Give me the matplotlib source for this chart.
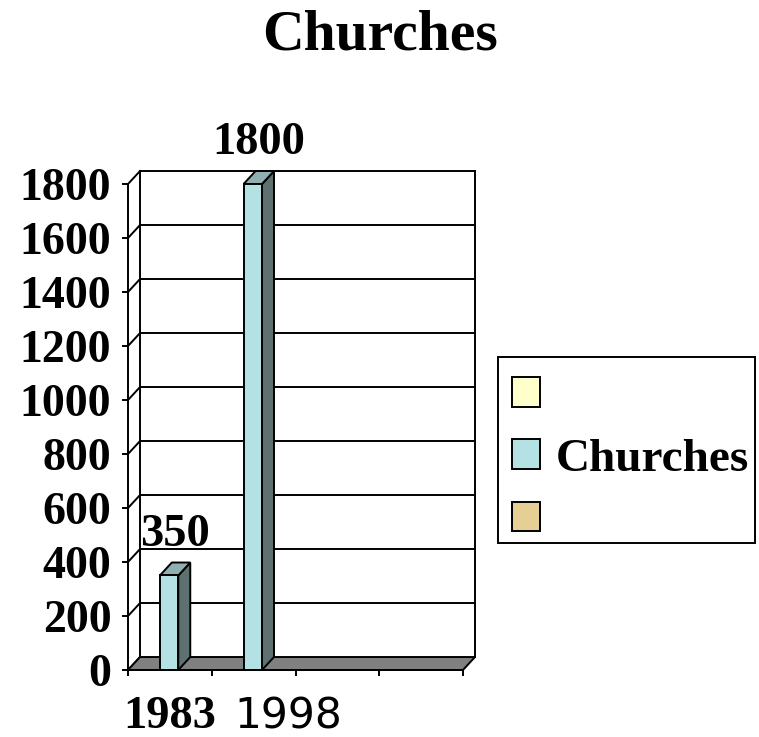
import matplotlib
matplotlib.use('Agg')
import matplotlib.pyplot as plt
import matplotlib.transforms as mtransforms
from matplotlib.patches import Polygon, Patch, Rectangle
from matplotlib.legend_handler import HandlerPatch

plt.rcParams['font.family'] = ['Liberation Serif', 'DejaVu Serif']
plt.rcParams['font.weight'] = 'bold'

# data
years = ['1983', '1998']
churches = [350, 1800]
n_slots = 4
yticks = [0, 200, 400, 600, 800, 1000, 1200, 1400, 1600, 1800]
legend_labels = [' ', 'Churches', ' ']
legend_colors = ['#FFFFCC', '#B4E1E4', '#E6CF94']

# colours of the fake 3d bars
c_front = '#B4E1E4'
c_top = '#8FAFB1'
c_side = '#5E706F'
c_floor = '#808080'
lw = 1.4

# depth offset of the back wall (x in category units, y in value units)
dx, dy = 0.143, 48
ymax = yticks[-1]
bar_w = 0.22

fig = plt.figure(figsize=(7.59, 7.37), dpi=100)
ax = fig.add_axes([0.1356, 0.0543, 0.5075, 0.7327])
ax.set_xlim(-0.3, 4.3)
ax.set_ylim(-100, 1900)

# back wall, grid lines and left wall diagonals
for v in yticks:
    if v > 0:
        ax.plot([dx, n_slots + dx], [v + dy, v + dy], color='black', lw=lw, zorder=1)
    ax.plot([0, dx], [v, v + dy], color='black', lw=lw, zorder=1)
ax.plot([dx, dx], [dy, ymax + dy], color='black', lw=lw, zorder=1)
ax.plot([n_slots + dx, n_slots + dx], [dy, ymax + dy], color='black', lw=lw, zorder=1)

# floor
ax.add_patch(Polygon([(0, 0), (n_slots, 0), (n_slots + dx, dy), (dx, dy)],
                     closed=True, fc=c_floor, ec='black', lw=lw, zorder=2))

# bars
for i, v in enumerate(churches):
    c = i + 0.49
    x0, x1 = c - bar_w / 2, c + bar_w / 2
    ax.add_patch(Polygon([(x1, 0), (x1 + dx, dy), (x1 + dx, v + dy), (x1, v)],
                         closed=True, fc=c_side, ec='black', lw=lw, zorder=3))
    ax.add_patch(Polygon([(x0, v), (x1, v), (x1 + dx, v + dy), (x0 + dx, v + dy)],
                         closed=True, fc=c_top, ec='black', lw=lw, zorder=3))
    ax.add_patch(Polygon([(x0, 0), (x1, 0), (x1, v), (x0, v)],
                         closed=True, fc=c_front, ec='black', lw=lw, zorder=4))
    ax.annotate(str(v), xy=(c + dx / 2, v + dy), xytext=(0, 12),
                textcoords='offset points', ha='center', va='baseline',
                fontsize=33.5, fontweight='bold')

# category labels (the second one is in a different font in the original)
label_fonts = [['Liberation Serif'], ['DejaVu Sans']]
label_weights = ['bold', 'normal']
label_sizes = [33.5, 30.5]
label_shift = [0, 25]
for i, yr in enumerate(years):
    ax.annotate(yr, xy=(i + 0.5, 0), xytext=(label_shift[i], -42),
                textcoords='offset points', ha='center', va='baseline',
                fontsize=label_sizes[i], family=label_fonts[i],
                fontweight=label_weights[i])

# axes / spines
for s in ['top', 'right']:
    ax.spines[s].set_visible(False)
ax.spines['left'].set_position(('data', 0))
ax.spines['left'].set_bounds(0, ymax)
ax.spines['bottom'].set_position(('data', 0))
ax.spines['bottom'].set_bounds(0, n_slots)
for s in ['left', 'bottom']:
    ax.spines[s].set_linewidth(lw)
    ax.spines[s].set_zorder(5)
ax.set_yticks(yticks)
ax.set_yticklabels([str(t) for t in yticks])
ax.set_xticks(range(n_slots + 1))
ax.set_xticklabels([])
ax.tick_params(direction='out', length=4, width=lw, labelsize=33, pad=8)
ax.patch.set_visible(False)

fig.text(0.5007, (737 - 50) / 737, 'Churches', ha='center', va='baseline',
         fontsize=41.5, fontweight='bold')

# legend; its entries sit a little low and to the right inside the box
shift_x, shift_y = 2.9, 7


def low_square(legend, orig_handle, xdescent, ydescent, width, height, fontsize):
    return Rectangle((-xdescent + shift_x, -ydescent - shift_y), width, height)


handles = [Patch(fc=c, ec='black', lw=lw) for c in legend_colors]
leg = fig.legend(handles, legend_labels, loc='center left',
                 bbox_to_anchor=(498 / 759, 287 / 737), frameon=True,
                 fancybox=False, edgecolor='black', framealpha=1, fontsize=34,
                 handlelength=0.59, handleheight=0.59, handletextpad=0.33,
                 labelspacing=0.43, borderpad=0.21, borderaxespad=0,
                 handler_map={Patch: HandlerPatch(patch_func=low_square)})
leg.get_frame().set_linewidth(lw)
for t in leg.get_texts():
    t.set_transform(t.get_transform()
                    + mtransforms.ScaledTranslation(shift_x / 72, -shift_y / 72,
                                                    fig.dpi_scale_trans))

fig.savefig('out.png', dpi=100)
